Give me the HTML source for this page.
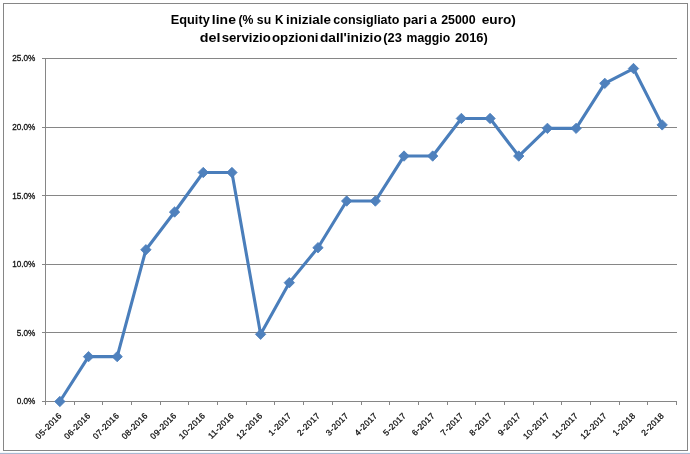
<!DOCTYPE html>
<html>
<head>
<meta charset="utf-8">
<title>Equity line</title>
<style>
html, body { margin: 0; padding: 0; background: #ffffff; }
body { width: 690px; height: 454px; overflow: hidden; font-family: "Liberation Sans", sans-serif; }
svg { display: block; will-change: transform; }
.ax { stroke: #868686; stroke-width: 1; fill: none; shape-rendering: crispEdges; }
.yl { font-family: "Liberation Sans", sans-serif; font-size: 8.2px; fill: #111111; stroke: #111111; stroke-width: 0.28px; text-anchor: end; }
.xl { font-family: "Liberation Sans", sans-serif; font-size: 8.4px; fill: #111111; stroke: #111111; stroke-width: 0.28px; text-anchor: end; letter-spacing: 0.35px; }
.ttl { font-family: "Liberation Sans", sans-serif; font-size: 12.4px; font-weight: bold; fill: #000000; }
</style>
</head>
<body>
<svg width="690" height="454" viewBox="0 0 690 454">
<rect x="0" y="0" width="690" height="454" fill="#ffffff"/>
<rect x="0" y="452" width="690" height="1" fill="#f1f8fc"/>
<rect x="0" y="453" width="690" height="1" fill="#a9b9d2"/>
<!-- chart frame -->
<rect x="3.5" y="3.5" width="684" height="447" fill="#ffffff" stroke="#868686" stroke-width="1" shape-rendering="crispEdges"/>
<text class="ttl" x="170.78" y="23.7" textLength="38.99" lengthAdjust="spacingAndGlyphs">Equity</text>
<text class="ttl" x="211.86" y="23.7" textLength="24.07" lengthAdjust="spacingAndGlyphs">line</text>
<text class="ttl" x="238.43" y="23.7" textLength="14.99" lengthAdjust="spacingAndGlyphs">(%</text>
<text class="ttl" x="256.87" y="23.7" textLength="14.26" lengthAdjust="spacingAndGlyphs">su</text>
<text class="ttl" x="274.99" y="23.7" textLength="8.50" lengthAdjust="spacingAndGlyphs">K</text>
<text class="ttl" x="286.11" y="23.7" textLength="44.84" lengthAdjust="spacingAndGlyphs">iniziale</text>
<text class="ttl" x="333.25" y="23.7" textLength="66.17" lengthAdjust="spacingAndGlyphs">consigliato</text>
<text class="ttl" x="402.98" y="23.7" textLength="24.17" lengthAdjust="spacingAndGlyphs">pari</text>
<text class="ttl" x="430.00" y="23.7" textLength="6.89" lengthAdjust="spacingAndGlyphs">a</text>
<text class="ttl" x="441.13" y="23.7" textLength="34.45" lengthAdjust="spacingAndGlyphs">25000</text>
<text class="ttl" x="481.66" y="23.7" textLength="34.29" lengthAdjust="spacingAndGlyphs">euro)</text>
<text class="ttl" x="199.89" y="41.5" textLength="20.68" lengthAdjust="spacingAndGlyphs">del</text>
<text class="ttl" x="221.65" y="41.5" textLength="49.07" lengthAdjust="spacingAndGlyphs">servizio</text>
<text class="ttl" x="271.96" y="41.5" textLength="46.49" lengthAdjust="spacingAndGlyphs">opzioni</text>
<text class="ttl" x="319.93" y="41.5" textLength="61.85" lengthAdjust="spacingAndGlyphs">dall&#39;inizio</text>
<text class="ttl" x="383.21" y="41.5" textLength="18.60" lengthAdjust="spacingAndGlyphs">(23</text>
<text class="ttl" x="406.62" y="41.5" textLength="43.52" lengthAdjust="spacingAndGlyphs">maggio</text>
<text class="ttl" x="454.91" y="41.5" textLength="32.88" lengthAdjust="spacingAndGlyphs">2016)</text>
<line class="ax" x1="42" y1="401.50" x2="677" y2="401.50"/>
<text class="yl" x="35.4" y="404.40">0.0%</text>
<line class="ax" x1="42" y1="332.90" x2="677" y2="332.90"/>
<text class="yl" x="35.4" y="335.80">5.0%</text>
<line class="ax" x1="42" y1="264.30" x2="677" y2="264.30"/>
<text class="yl" x="35.4" y="267.20">10.0%</text>
<line class="ax" x1="42" y1="195.70" x2="677" y2="195.70"/>
<text class="yl" x="35.4" y="198.60">15.0%</text>
<line class="ax" x1="42" y1="127.10" x2="677" y2="127.10"/>
<text class="yl" x="35.4" y="130.00">20.0%</text>
<line class="ax" x1="42" y1="58.50" x2="677" y2="58.50"/>
<text class="yl" x="35.4" y="61.40">25.0%</text>
<line class="ax" x1="45.5" y1="58" x2="45.5" y2="405"/>
<line class="ax" x1="74.18" y1="401" x2="74.18" y2="405"/>
<line class="ax" x1="102.86" y1="401" x2="102.86" y2="405"/>
<line class="ax" x1="131.55" y1="401" x2="131.55" y2="405"/>
<line class="ax" x1="160.23" y1="401" x2="160.23" y2="405"/>
<line class="ax" x1="188.91" y1="401" x2="188.91" y2="405"/>
<line class="ax" x1="217.59" y1="401" x2="217.59" y2="405"/>
<line class="ax" x1="246.27" y1="401" x2="246.27" y2="405"/>
<line class="ax" x1="274.95" y1="401" x2="274.95" y2="405"/>
<line class="ax" x1="303.64" y1="401" x2="303.64" y2="405"/>
<line class="ax" x1="332.32" y1="401" x2="332.32" y2="405"/>
<line class="ax" x1="361.00" y1="401" x2="361.00" y2="405"/>
<line class="ax" x1="389.68" y1="401" x2="389.68" y2="405"/>
<line class="ax" x1="418.36" y1="401" x2="418.36" y2="405"/>
<line class="ax" x1="447.05" y1="401" x2="447.05" y2="405"/>
<line class="ax" x1="475.73" y1="401" x2="475.73" y2="405"/>
<line class="ax" x1="504.41" y1="401" x2="504.41" y2="405"/>
<line class="ax" x1="533.09" y1="401" x2="533.09" y2="405"/>
<line class="ax" x1="561.77" y1="401" x2="561.77" y2="405"/>
<line class="ax" x1="590.45" y1="401" x2="590.45" y2="405"/>
<line class="ax" x1="619.14" y1="401" x2="619.14" y2="405"/>
<line class="ax" x1="647.82" y1="401" x2="647.82" y2="405"/>
<line class="ax" x1="676.50" y1="401" x2="676.50" y2="405"/>
<text class="xl" transform="translate(62.34,416.20) rotate(-45)">05-2016</text>
<text class="xl" transform="translate(91.02,416.20) rotate(-45)">06-2016</text>
<text class="xl" transform="translate(119.70,416.20) rotate(-45)">07-2016</text>
<text class="xl" transform="translate(148.39,416.20) rotate(-45)">08-2016</text>
<text class="xl" transform="translate(177.07,416.20) rotate(-45)">09-2016</text>
<text class="xl" transform="translate(205.75,416.20) rotate(-45)">10-2016</text>
<text class="xl" transform="translate(234.43,416.20) rotate(-45)">11-2016</text>
<text class="xl" transform="translate(263.11,416.20) rotate(-45)">12-2016</text>
<text class="xl" transform="translate(291.80,416.20) rotate(-45)">1-2017</text>
<text class="xl" transform="translate(320.48,416.20) rotate(-45)">2-2017</text>
<text class="xl" transform="translate(349.16,416.20) rotate(-45)">3-2017</text>
<text class="xl" transform="translate(377.84,416.20) rotate(-45)">4-2017</text>
<text class="xl" transform="translate(406.52,416.20) rotate(-45)">5-2017</text>
<text class="xl" transform="translate(435.20,416.20) rotate(-45)">6-2017</text>
<text class="xl" transform="translate(463.89,416.20) rotate(-45)">7-2017</text>
<text class="xl" transform="translate(492.57,416.20) rotate(-45)">8-2017</text>
<text class="xl" transform="translate(521.25,416.20) rotate(-45)">9-2017</text>
<text class="xl" transform="translate(549.93,416.20) rotate(-45)">10-2017</text>
<text class="xl" transform="translate(578.61,416.20) rotate(-45)">11-2017</text>
<text class="xl" transform="translate(607.30,416.20) rotate(-45)">12-2017</text>
<text class="xl" transform="translate(635.98,416.20) rotate(-45)">1-2018</text>
<text class="xl" transform="translate(664.66,416.20) rotate(-45)">2-2018</text>
<path d="M59.84,401.50 L88.52,356.64 L117.20,356.64 L145.89,249.76 L174.57,212.03 L203.25,172.51 L231.93,172.51 L260.61,334.27 L289.30,282.68 L317.98,247.70 L346.66,201.05 L375.34,201.05 L404.02,156.05 L432.70,156.05 L461.39,118.46 L490.07,118.46 L518.75,156.05 L547.43,128.33 L576.11,128.33 L604.80,83.33 L633.48,68.52 L662.16,124.90" fill="none" stroke="#4a7ebb" stroke-width="3.1" stroke-linejoin="round" stroke-linecap="round"/>
<path d="M59.84,396.30 L65.04,401.50 L59.84,406.70 L54.64,401.50 Z" fill="#4f81bd" stroke="#4a7ebb" stroke-width="0.8"/>
<path d="M88.52,351.44 L93.72,356.64 L88.52,361.84 L83.32,356.64 Z" fill="#4f81bd" stroke="#4a7ebb" stroke-width="0.8"/>
<path d="M117.20,351.44 L122.40,356.64 L117.20,361.84 L112.00,356.64 Z" fill="#4f81bd" stroke="#4a7ebb" stroke-width="0.8"/>
<path d="M145.89,244.56 L151.09,249.76 L145.89,254.96 L140.69,249.76 Z" fill="#4f81bd" stroke="#4a7ebb" stroke-width="0.8"/>
<path d="M174.57,206.83 L179.77,212.03 L174.57,217.23 L169.37,212.03 Z" fill="#4f81bd" stroke="#4a7ebb" stroke-width="0.8"/>
<path d="M203.25,167.31 L208.45,172.51 L203.25,177.71 L198.05,172.51 Z" fill="#4f81bd" stroke="#4a7ebb" stroke-width="0.8"/>
<path d="M231.93,167.31 L237.13,172.51 L231.93,177.71 L226.73,172.51 Z" fill="#4f81bd" stroke="#4a7ebb" stroke-width="0.8"/>
<path d="M260.61,329.07 L265.81,334.27 L260.61,339.47 L255.41,334.27 Z" fill="#4f81bd" stroke="#4a7ebb" stroke-width="0.8"/>
<path d="M289.30,277.48 L294.50,282.68 L289.30,287.88 L284.10,282.68 Z" fill="#4f81bd" stroke="#4a7ebb" stroke-width="0.8"/>
<path d="M317.98,242.50 L323.18,247.70 L317.98,252.90 L312.78,247.70 Z" fill="#4f81bd" stroke="#4a7ebb" stroke-width="0.8"/>
<path d="M346.66,195.85 L351.86,201.05 L346.66,206.25 L341.46,201.05 Z" fill="#4f81bd" stroke="#4a7ebb" stroke-width="0.8"/>
<path d="M375.34,195.85 L380.54,201.05 L375.34,206.25 L370.14,201.05 Z" fill="#4f81bd" stroke="#4a7ebb" stroke-width="0.8"/>
<path d="M404.02,150.85 L409.22,156.05 L404.02,161.25 L398.82,156.05 Z" fill="#4f81bd" stroke="#4a7ebb" stroke-width="0.8"/>
<path d="M432.70,150.85 L437.90,156.05 L432.70,161.25 L427.50,156.05 Z" fill="#4f81bd" stroke="#4a7ebb" stroke-width="0.8"/>
<path d="M461.39,113.26 L466.59,118.46 L461.39,123.66 L456.19,118.46 Z" fill="#4f81bd" stroke="#4a7ebb" stroke-width="0.8"/>
<path d="M490.07,113.26 L495.27,118.46 L490.07,123.66 L484.87,118.46 Z" fill="#4f81bd" stroke="#4a7ebb" stroke-width="0.8"/>
<path d="M518.75,150.85 L523.95,156.05 L518.75,161.25 L513.55,156.05 Z" fill="#4f81bd" stroke="#4a7ebb" stroke-width="0.8"/>
<path d="M547.43,123.13 L552.63,128.33 L547.43,133.53 L542.23,128.33 Z" fill="#4f81bd" stroke="#4a7ebb" stroke-width="0.8"/>
<path d="M576.11,123.13 L581.31,128.33 L576.11,133.53 L570.91,128.33 Z" fill="#4f81bd" stroke="#4a7ebb" stroke-width="0.8"/>
<path d="M604.80,78.13 L610.00,83.33 L604.80,88.53 L599.60,83.33 Z" fill="#4f81bd" stroke="#4a7ebb" stroke-width="0.8"/>
<path d="M633.48,63.32 L638.68,68.52 L633.48,73.72 L628.28,68.52 Z" fill="#4f81bd" stroke="#4a7ebb" stroke-width="0.8"/>
<path d="M662.16,119.70 L667.36,124.90 L662.16,130.10 L656.96,124.90 Z" fill="#4f81bd" stroke="#4a7ebb" stroke-width="0.8"/>
</svg>
</body>
</html>
